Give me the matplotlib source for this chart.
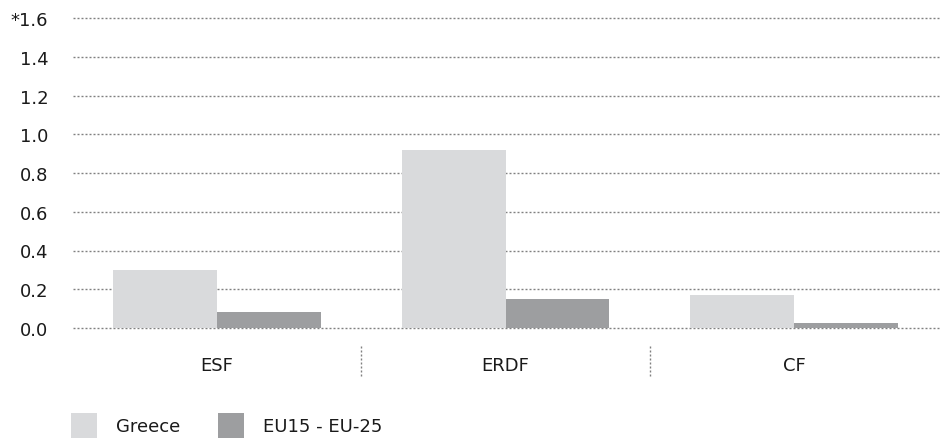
import numpy as np
import matplotlib
matplotlib.use('Agg')
import matplotlib.pyplot as plt
from matplotlib.patches import Rectangle
from matplotlib.transforms import blended_transform_factory

# ── Data ────────────────────────────────────────────────────────────────
CATEGORIES  = ['ESF', 'ERDF', 'CF']
GREECE      = [0.30, 0.92, 0.17]
EU15_EU25   = [0.083, 0.15, 0.026]
SERIES      = ['Greece', 'EU15 - EU-25']
Y_TICKS     = [0.0, 0.2, 0.4, 0.6, 0.8, 1.0, 1.2, 1.4, 1.6]
Y_LABELS    = ['0.0', '0.2', '0.4', '0.6', '0.8', '1.0', '1.2', '1.4', '*1.6']

# ── Style ───────────────────────────────────────────────────────────────
COL_GREECE  = '#d9dadc'
COL_EU      = '#9d9ea0'
GRID_COL    = '#808080'
TEXT_COL    = '#1a1a1a'
FONT_SIZE   = 13
BAR_W       = 0.36
GRID_LW     = 1.0
DOTS        = (0, (1.44, 1.44))
# ────────────────────────────────────────────────────────────────────────

plt.rcParams['font.family'] = ['DejaVu Sans']

W, H = 940, 439
fig = plt.figure(figsize=(W / 100, H / 100), dpi=100)
ax = fig.add_axes([72.5 / W, 110 / H, 866 / W, 310 / H])

x = np.arange(len(CATEGORIES))
ax.bar(x - BAR_W / 2, GREECE, BAR_W, color=COL_GREECE, zorder=3)
ax.bar(x + BAR_W / 2, EU15_EU25, BAR_W, color=COL_EU, zorder=3)

ax.set_xlim(-0.5, len(CATEGORIES) - 0.5)
ax.set_ylim(0, 1.6)

# dotted horizontal grid
for yv in Y_TICKS:
    ax.axhline(yv, color=GRID_COL, lw=GRID_LW, ls=DOTS, zorder=1, clip_on=False)

ax.set_yticks(Y_TICKS)
ax.set_yticklabels(Y_LABELS, fontsize=FONT_SIZE, color=TEXT_COL)
ax.tick_params(axis='y', length=0, pad=17.5)
ax.set_xticks([])
for s in ax.spines.values():
    s.set_visible(False)

# category labels and separators below the axis
trans = blended_transform_factory(ax.transData, ax.transAxes)
for i, cat in enumerate(CATEGORIES):
    ax.text(i, -0.118, cat, transform=trans, ha='center', va='center',
            fontsize=FONT_SIZE, color=TEXT_COL)
for xs in x[:-1] + 0.5:
    ax.plot([xs, xs], [-0.058, -0.158], transform=trans, color=GRID_COL,
            lw=GRID_LW, ls=DOTS, clip_on=False)

# legend built by hand
legend_x = [71, 218]
for lx, name, col in zip(legend_x, SERIES, [COL_GREECE, COL_EU]):
    fig.patches.append(Rectangle((lx / W, 0), 26 / W, 25 / H, transform=fig.transFigure,
                                 facecolor=col, edgecolor='none'))
    fig.text((lx + 45) / W, 12 / H, name, ha='left', va='center',
             fontsize=FONT_SIZE, color=TEXT_COL)

fig.savefig('out.png', dpi=100)
